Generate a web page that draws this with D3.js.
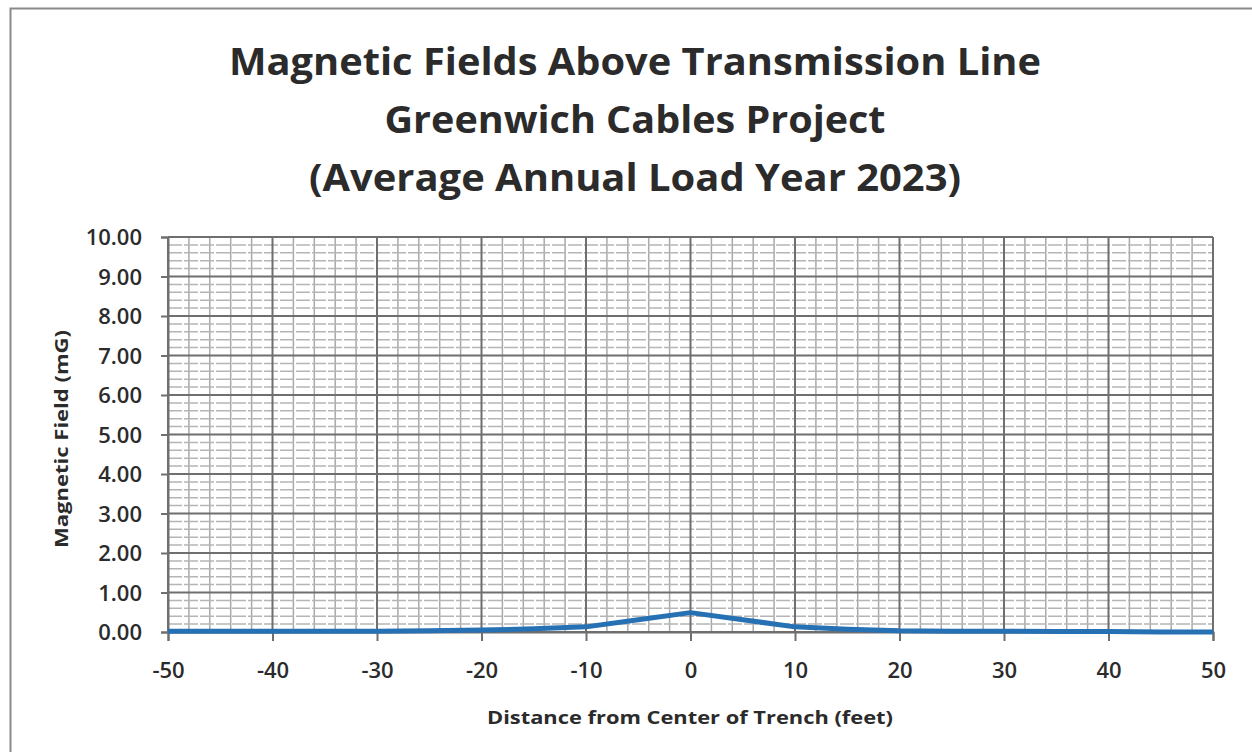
<!DOCTYPE html>
<html><head><meta charset="utf-8">
<script src="https://cdn.jsdelivr.net/npm/d3@7"></script>
<style>body{margin:0;background:#fff}svg{display:block}</style>
</head><body>
<svg id="c" width="1252" height="752"></svg>
<script>
const titleLines = ["Magnetic Fields Above Transmission Line", "Greenwich Cables Project", "(Average Annual Load Year 2023)"];
const xTitle = "Distance from Center of Trench (feet)";
const yTitle = "Magnetic Field (mG)";
const distance = [-50,-45,-40,-35,-30,-25,-20,-15,-10,-5,0,5,10,15,20,25,30,35,40,45,50];
const field    = [0.02,0.02,0.02,0.02,0.02,0.03,0.05,0.08,0.13,0.31,0.49,0.31,0.13,0.07,0.03,0.02,0.02,0.01,0.01,0.00,0.00];
const xTicks = [-50,-40,-30,-20,-10,0,10,20,30,40,50];
const yTicks = [0,1,2,3,4,5,6,7,8,9,10];

const svg = d3.select("#c");
const L = 168, R = 1213, T = 237, B = 632;
const x = d3.scaleLinear().domain([-50,50]).range([L,R]);
const y = d3.scaleLinear().domain([0,10]).range([B,T]);

// outer frame
svg.append("path").attr("d","M10.5,752 L10.5,8.5 L1252,8.5").attr("fill","none").attr("stroke","#8a8a8a").attr("stroke-width",2);

// minor grid
const xMinor = d3.range(-50,50.001,2).filter(v=>Math.abs(v%10)>0.001);
const yMinor = d3.range(0,10.001,0.2).filter(v=>Math.abs(v-Math.round(v))>0.001);
const g = svg.append("g");
g.selectAll(".xm").data(xMinor).join("line").attr("x1",d=>x(d)).attr("x2",d=>x(d)).attr("y1",T).attr("y2",B).attr("stroke","#a9a9a9").attr("stroke-width",1.5);
g.selectAll(".ym").data(yMinor).join("line").attr("x1",L).attr("x2",R).attr("y1",d=>y(d)).attr("y2",d=>y(d)).attr("stroke","#b5b5b5").attr("stroke-width",1.5).attr("stroke-dasharray","14,2");
// major grid
g.selectAll(".xM").data(xTicks).join("line").attr("x1",d=>x(d)).attr("x2",d=>x(d)).attr("y1",T).attr("y2",B).attr("stroke","#6f6f6f").attr("stroke-width",2);
g.selectAll(".yM").data(yTicks).join("line").attr("x1",L).attr("x2",R).attr("y1",d=>y(d)).attr("y2",d=>y(d)).attr("stroke","#6f6f6f").attr("stroke-width",2);

// axes
const xa = svg.append("g").attr("transform",`translate(0,${B})`).call(d3.axisBottom(x).tickValues(xTicks).tickSize(9).tickFormat(d=>String(d)));
const ya = svg.append("g").attr("transform",`translate(${L},0)`).call(d3.axisLeft(y).tickValues(yTicks).tickSize(7).tickFormat(d3.format(".2f")));
[xa,ya].forEach(a=>{a.select(".domain").attr("stroke","#6f6f6f").attr("stroke-width",2);
  a.selectAll(".tick line").attr("stroke","#6f6f6f").attr("stroke-width",2);
  a.selectAll("text").attr("fill","#2b2b2b").attr("font-family","Open Sans, sans-serif").attr("font-weight",600).attr("font-size",22);});
xa.selectAll("text").attr("dy",0).attr("y",46);
ya.selectAll("text").attr("x",-26).attr("dy","0.35em");

// line
svg.append("path").datum(distance.map((d,i)=>[d,field[i]]))
  .attr("d",d3.line().x(d=>x(d[0])).y(d=>y(d[1])))
  .attr("fill","none").attr("stroke","#2670b4").attr("stroke-width",5).attr("stroke-linejoin","round");

// titles
const tY = [62,120,178];
const tW = [812,501,652];
titleLines.forEach((t,i)=>{
  svg.append("text").attr("x",635).attr("y",tY[i]).attr("dy","0.35em").attr("text-anchor","middle")
    .attr("font-family","Open Sans, sans-serif").attr("font-weight",700).attr("font-size",38).attr("fill","#2b2b2b")
    .attr("textLength",tW[i]).attr("lengthAdjust","spacingAndGlyphs").text(t);
});
svg.append("text").attr("x",690).attr("y",718).attr("dy","0.35em").attr("text-anchor","middle")
  .attr("font-family","Open Sans, sans-serif").attr("font-weight",700).attr("font-size",17).attr("fill","#2b2b2b")
  .attr("textLength",406).attr("lengthAdjust","spacingAndGlyphs").text(xTitle);
svg.append("text").attr("transform","translate(62,439) rotate(-90)").attr("dy","0.35em").attr("text-anchor","middle")
  .attr("font-family","Open Sans, sans-serif").attr("font-weight",700).attr("font-size",17).attr("fill","#2b2b2b")
  .attr("textLength",218).attr("lengthAdjust","spacingAndGlyphs").text(yTitle);
</script>
</body></html>
